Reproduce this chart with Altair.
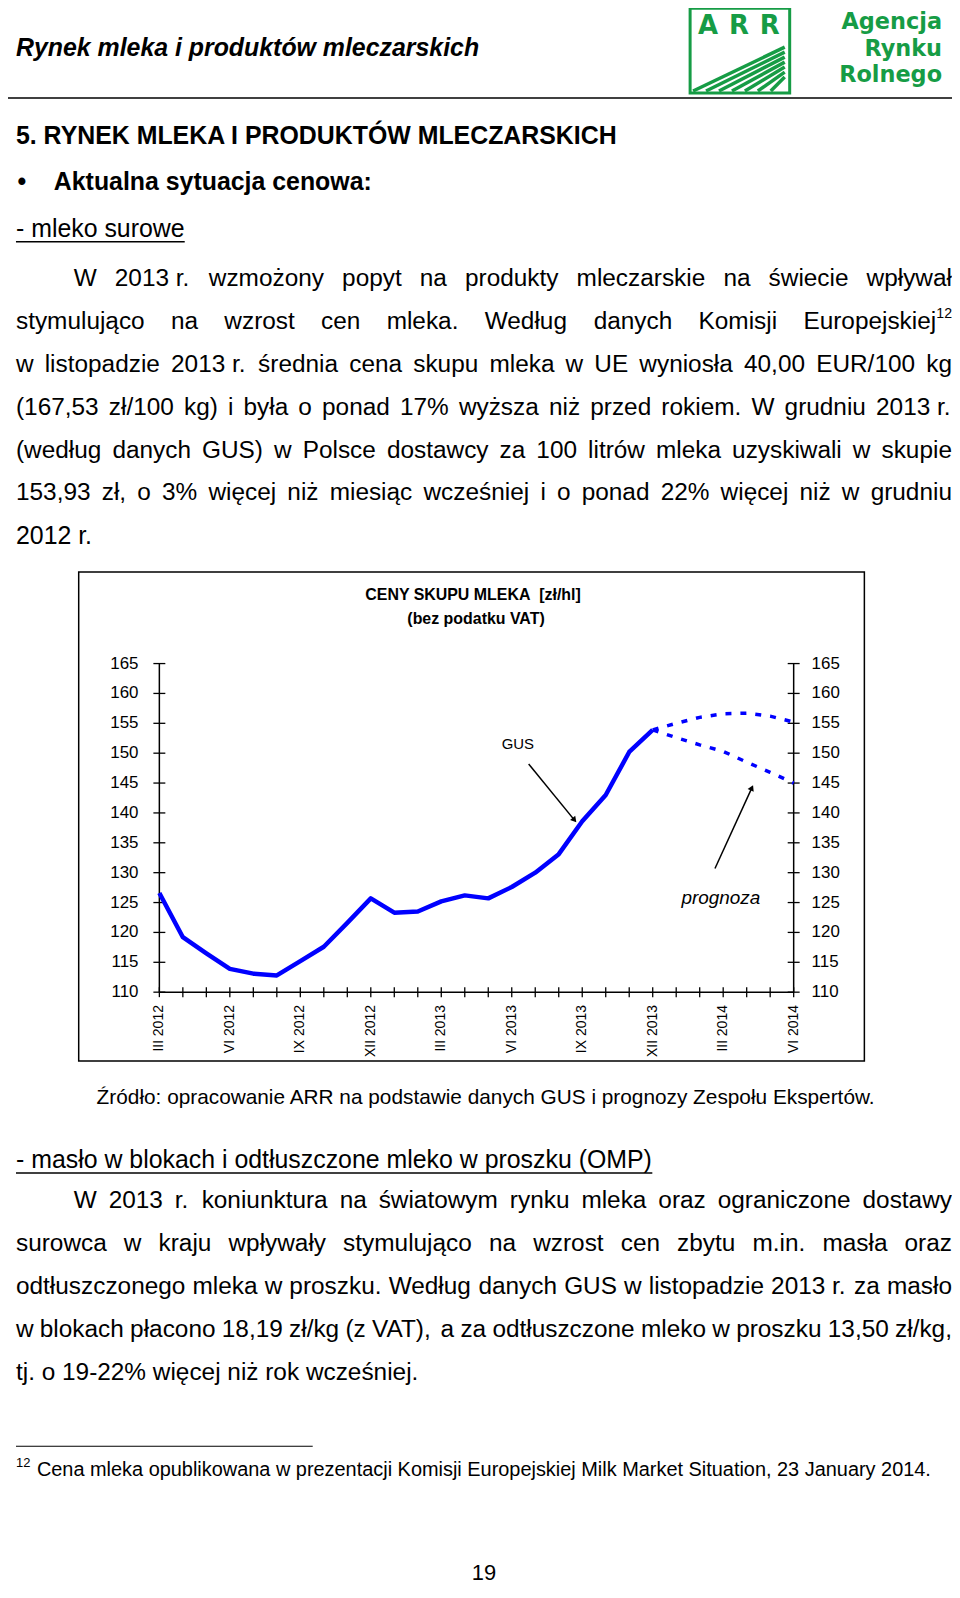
import math
import altair as alt
import pandas as pd

# ---------------- chart data ----------------
tick_labels = ["III 2012", "VI 2012", "IX 2012", "XII 2012", "III 2013",
               "VI 2013", "IX 2013", "XII 2013", "III 2014", "VI 2014"]
gus_values = [126.6, 119.2, 116.5, 113.9, 113.1, 112.8, 115.2, 117.6, 121.6, 125.7,
              123.3, 123.5, 125.2, 126.2, 125.7, 127.6, 130.0, 133.1, 138.6, 143.0,
              150.2, 153.9]
forecast_high = [153.9, 155.0, 156.0, 156.6, 156.7, 156.2, 155.2]
forecast_low = [153.9, 152.6, 151.4, 150.3, 148.5, 146.8, 145.0]
y_ticks = [110, 115, 120, 125, 130, 135, 140, 145, 150, 155, 160, 165]

annot_text = ["GUS", "prognoza"]
annot_month = [15.26, 23.9]
annot_value = [151.5, 125.8]
arrow_from_month = [15.72, 23.65]
arrow_from_value = [148.2, 130.7]
arrow_to_month = [17.67, 25.22]
arrow_to_value = [138.8, 144.2]

# ---------------- page text ----------------
header_title = "Rynek mleka i produktów mleczarskich"
logo_letters = ["A", "R", "R"]
logo_words = ["Agencja", "Rynku", "Rolnego"]
section_title = "5. RYNEK MLEKA I PRODUKTÓW MLECZARSKICH"
bullet_title = "Aktualna sytuacja cenowa:"
sub1 = "- mleko surowe"
para1 = [
    "W 2013\u00a0r. wzmożony popyt na produkty mleczarskie na świecie wpływał",
    "stymulująco na wzrost cen mleka. Według danych Komisji Europejskiej",
    "w listopadzie 2013\u00a0r. średnia cena skupu mleka w UE wyniosła 40,00 EUR/100 kg",
    "(167,53 zł/100 kg) i była o ponad 17% wyższa niż przed rokiem. W grudniu 2013\u00a0r.",
    "(według danych GUS) w Polsce dostawcy za 100 litrów mleka uzyskiwali w skupie",
    "153,93 zł, o 3% więcej niż miesiąc wcześniej i o ponad 22% więcej niż w grudniu",
    "2012 r.",
]
footnote_mark = "12"
chart_title = "CENY SKUPU MLEKA\u00a0 [zł/hl]"
chart_subtitle = "(bez podatku VAT)"
source_text = "Źródło: opracowanie ARR na podstawie danych GUS i prognozy Zespołu Ekspertów."
sub2 = "- masło w blokach i odtłuszczone mleko w proszku (OMP)"
para2 = [
    "W 2013 r. koniunktura na światowym rynku mleka oraz ograniczone dostawy",
    "surowca w kraju wpływały stymulująco na wzrost cen zbytu m.in. masła oraz",
    "odtłuszczonego mleka w proszku. Według danych GUS w listopadzie 2013\u00a0r. za masło",
    "w blokach płacono 18,19 zł/kg (z VAT), a za odtłuszczone mleko w proszku 13,50 zł/kg,",
    "tj. o 19-22% więcej niż rok wcześniej.",
]
footnote_text = "Cena mleka opublikowana w prezentacji Komisji Europejskiej Milk Market Situation, 23 January 2014."
page_number = "19"

# ---------------- geometry ----------------
W, H = 637, 330            # plot area
OX, OY = 160, 663          # plot origin on the page
SVG_W, SVG_H = 948, 1577
GREEN = "#169c45"
BLUE = "#0000ff"
FONT = "Liberation Sans"

AR = {' ': 278, '\u00a0': 278, '%': 889, '(': 333, ')': 333, ',': 278, '-': 333,
      '.': 278, '/': 278, ':': 278,
      'A': 667, 'B': 667, 'C': 722, 'D': 722, 'E': 667, 'F': 611, 'G': 778, 'H': 722,
      'I': 278, 'J': 500, 'K': 667, 'L': 556, 'M': 833, 'N': 722, 'O': 778, 'P': 667,
      'R': 722, 'S': 667, 'T': 611, 'U': 722, 'V': 667, 'W': 944, 'Z': 611, 'Ź': 611,
      'a': 556, 'b': 556, 'c': 500, 'd': 556, 'e': 556, 'f': 278, 'g': 556, 'h': 556,
      'i': 222, 'j': 222, 'k': 500, 'l': 222, 'm': 833, 'n': 556, 'o': 556, 'p': 556,
      'r': 333, 's': 500, 't': 278, 'u': 556, 'v': 500, 'w': 722, 'y': 500, 'z': 500,
      'ą': 556, 'ć': 500, 'ę': 556, 'ł': 222, 'ń': 556, 'ó': 556, 'ś': 500, 'ź': 500,
      'ż': 500}


def tw(s, fs):
    return sum(AR.get(c, 556) for c in s) * fs / 1000.0


items = []   # text items in page coordinates
rules = []   # line segments in page coordinates


def add(t, x, y, fs, kind):
    items.append(dict(t=t, x=x - OX, y=y - OY, fs=fs, kind=kind))


def add_rule(x, y, x2, y2, w=1.5, c="black"):
    rules.append(dict(x=x - OX, y=y - OY, x2=x2 - OX, y2=y2 - OY, w=w, c=c))


def justify(line, left, right, y, fs, sup=None):
    words = line.split(" ")
    ws = [tw(w, fs) for w in words]
    if sup:
        ws[-1] += tw(sup, fs * 0.58)
    gap = max((right - left - sum(ws)) / (len(words) - 1), 0.2 * fs)
    x = left
    for i, (w, wd) in enumerate(zip(words, ws)):
        add(w, x, y, fs, "n")
        if sup and i == len(words) - 1:
            add(sup, x + wd - tw(sup, fs * 0.58), y - 8, fs * 0.58, "n")
        x += wd + gap


LEFT, RIGHT, INDENT = 16, 956, 74
FS, FSH = 24.5, 25

# header
add(header_title, 16, 45, 25, "bi")
add_rule(8, 95, 956, 95, 1.5)
# logo
for lx, letter in zip([711, 742, 773], logo_letters):
    add(letter, lx, 23, 26, "gc")
for ly, word in zip([19, 45.5, 72], logo_words):
    add(word, 946, ly, 22.5, "g")
for k in range(7):
    add_rule(696 + k * 13, 88, 788, 44 + k * 5, 3.5, GREEN)

# section 1
add(section_title, LEFT, 133, FSH, "b")
add("•", 22, 179, FSH, "bc")
add(bullet_title, 54, 179, FSH, "b")
add(sub1, LEFT, 227, FSH, "n")
add_rule(LEFT, 239.5, LEFT + tw(sub1, FSH), 239.5, 1.5)
for i, line in enumerate(para1):
    y = 277.2 + 43.0 * i
    left = INDENT if i == 0 else LEFT
    if i == len(para1) - 1:
        add(line, left, y, FSH, "n")
    else:
        justify(line, left, RIGHT, y, FS, sup=footnote_mark if i == 1 else None)

# chart titles & source
add(chart_title, 475, 594, 16, "bc")
add(chart_subtitle, 478, 618, 16, "bc")
add(source_text, 97, 1099, 20.9, "n")

# section 2
add(sub2, LEFT, 1162, FSH, "n")
add_rule(LEFT, 1174.5, LEFT + tw(sub2, FSH), 1174.5, 1.5)
for i, line in enumerate(para2):
    y = 1203 + 43.0 * i
    left = INDENT if i == 0 else LEFT
    if i == len(para2) - 1:
        add(line, left, y, FS, "n")
    else:
        justify(line, left, RIGHT, y, FS)

# footnote & page number
add_rule(LEFT, 1449, 314, 1449, 1.2)
add(footnote_mark, LEFT, 1466, 13, "n")
add(footnote_text, 37, 1473, 20, "n")
add(page_number, 486, 1576, 22, "nc")

text_df = pd.DataFrame(items)
rules_df = pd.DataFrame(rules)

KINDS = {
    "n": dict(align="left", font=FONT, color="black"),
    "nc": dict(align="center", font=FONT, color="black"),
    "b": dict(align="left", font=FONT, fontWeight="bold", color="black"),
    "bc": dict(align="center", font=FONT, fontWeight="bold", color="black"),
    "bi": dict(align="left", font=FONT, fontWeight="bold", fontStyle="italic", color="black"),
    "g": dict(align="right", font="DejaVu Sans", fontWeight="bold", color=GREEN),
    "gc": dict(align="center", font="DejaVu Sans", fontWeight="bold", color=GREEN),
}

layers = []

# frame around the chart and logo box
frame = alt.Chart(pd.DataFrame({"a": [0]})).mark_rect(
    filled=False, color="black", strokeWidth=1.5).encode(
    x=alt.value(79 - OX), x2=alt.value(868 - OX),
    y=alt.value(571 - OY), y2=alt.value(1062 - OY))
logo_box = alt.Chart(pd.DataFrame({"a": [0]})).mark_rect(
    filled=False, color=GREEN, strokeWidth=3).encode(
    x=alt.value(693 - OX), x2=alt.value(793 - OX),
    y=alt.value(5 - OY), y2=alt.value(90 - OY))
layers += [frame, logo_box]

page_rules = alt.Chart(rules_df).mark_rule().encode(
    x=alt.X("x:Q", scale=None, axis=None), x2="x2:Q",
    y=alt.Y("y:Q", scale=None, axis=None), y2="y2:Q",
    size=alt.Size("w:Q", scale=None, legend=None),
    color=alt.Color("c:N", scale=None, legend=None))
layers.append(page_rules)

for kind, props in KINDS.items():
    sub = text_df[text_df["kind"] == kind]
    if len(sub) == 0:
        continue
    layers.append(alt.Chart(sub).mark_text(baseline="middle", **props).encode(
        x=alt.X("x:Q", scale=None, axis=None),
        y=alt.Y("y:Q", scale=None, axis=None),
        text="t:N",
        size=alt.Size("fs:Q", scale=None, legend=None)))

# ---------------- the chart itself ----------------
xs = alt.Scale(domain=[0, 27], nice=False, zero=False)
ys = alt.Scale(domain=[110, 165], nice=False, zero=False)


def X(f):
    return alt.X(f, type="quantitative", scale=xs, axis=None)


def Y(f):
    return alt.Y(f, type="quantitative", scale=ys, axis=None)


# axes lines
axis_df = pd.DataFrame({"m0": [0], "m1": [27], "v0": [y_ticks[0]], "v1": [y_ticks[-1]]})
layers.append(alt.Chart(axis_df).mark_rule(color="black", strokeWidth=1.5).encode(
    x=X("m0"), x2="m1", y=Y("v0")))
layers.append(alt.Chart(axis_df).mark_rule(color="black", strokeWidth=1.5).encode(
    x=X("m0"), y=Y("v0"), y2="v1"))
layers.append(alt.Chart(axis_df).mark_rule(color="black", strokeWidth=1.5).encode(
    x=X("m1"), y=Y("v0"), y2="v1"))

# y ticks (crossing) and labels, both sides
yt_df = pd.DataFrame({"v": y_ticks})
layers.append(alt.Chart(yt_df).mark_rule(color="black", strokeWidth=1.3).encode(
    y=Y("v"), x=alt.value(-6), x2=alt.value(6)))
layers.append(alt.Chart(yt_df).mark_rule(color="black", strokeWidth=1.3).encode(
    y=Y("v"), x=alt.value(W - 6), x2=alt.value(W + 6)))
layers.append(alt.Chart(yt_df).mark_text(align="right", baseline="middle", font=FONT,
                                          fontSize=17, color="black").encode(
    y=Y("v"), x=alt.value(-21), text="v:Q"))
layers.append(alt.Chart(yt_df).mark_text(align="left", baseline="middle", font=FONT,
                                          fontSize=17, color="black").encode(
    y=Y("v"), x=alt.value(W + 18), text="v:Q"))

# x ticks (every month) and labels (every quarter)
xt_df = pd.DataFrame({"m": list(range(28))})
layers.append(alt.Chart(xt_df).mark_rule(color="black", strokeWidth=1.3).encode(
    x=X("m"), y=alt.value(H - 5), y2=alt.value(H + 5)))
xl_df = pd.DataFrame({"m": [3 * i for i in range(len(tick_labels))], "label": tick_labels})
layers.append(alt.Chart(xl_df).mark_text(angle=270, align="right", baseline="middle",
                                          font=FONT, fontSize=14, color="black").encode(
    x=X("m"), y=alt.value(H + 13), text="label:N"))

# GUS series
gus_df = pd.DataFrame({"m": list(range(len(gus_values))), "v": gus_values})
layers.append(alt.Chart(gus_df).mark_line(color=BLUE, strokeWidth=4.5, strokeJoin="round").encode(
    x=X("m"), y=Y("v")))

# forecast (dashed)
start = len(gus_values) - 1
fc_df = pd.DataFrame({
    "m": list(range(start, start + len(forecast_high))) * 2,
    "v": forecast_high + forecast_low,
    "s": ["high"] * len(forecast_high) + ["low"] * len(forecast_low),
})
layers.append(alt.Chart(fc_df).mark_line(color=BLUE, strokeWidth=3.5, strokeDash=[6, 9]).encode(
    x=X("m"), y=Y("v"), detail="s:N"))

# annotations
ann_df = pd.DataFrame({"m": annot_month, "v": annot_value, "t": annot_text})
layers.append(alt.Chart(ann_df.iloc[[0]]).mark_text(font=FONT, fontSize=15, color="black").encode(
    x=X("m"), y=Y("v"), text="t:N"))
layers.append(alt.Chart(ann_df.iloc[[1]]).mark_text(font=FONT, fontSize=19, fontStyle="italic",
                                                     color="black").encode(
    x=X("m"), y=Y("v"), text="t:N"))
angles = []
for m1, v1, m2, v2 in zip(arrow_from_month, arrow_from_value, arrow_to_month, arrow_to_value):
    dx = (m2 - m1) * W / 27.0
    dy = -(v2 - v1) * H / 55.0
    angles.append(math.degrees(math.atan2(dx, -dy)) % 360)
arr_df = pd.DataFrame({"m": arrow_from_month, "v": arrow_from_value,
                       "m2": arrow_to_month, "v2": arrow_to_value, "ang": angles})
layers.append(alt.Chart(arr_df).mark_rule(color="black", strokeWidth=1.5).encode(
    x=X("m"), y=Y("v"), x2="m2", y2="v2"))
layers.append(alt.Chart(arr_df).mark_point(shape="triangle-up", filled=True, color="black",
                                           size=45, opacity=1).encode(
    x=X("m2"), y=Y("v2"), angle=alt.Angle("ang:Q", scale=None)))

chart = alt.layer(*layers).properties(
    width=W, height=H,
    autosize=alt.AutoSizeParams(type="none"),
    padding={"left": OX - 8, "top": OY - 8,
             "right": SVG_W - (OX - 8) - W, "bottom": SVG_H - (OY - 8) - H},
    background="white",
).configure_view(stroke=None)

chart.save("out.html", embed_options={"renderer": "svg", "actions": False})
